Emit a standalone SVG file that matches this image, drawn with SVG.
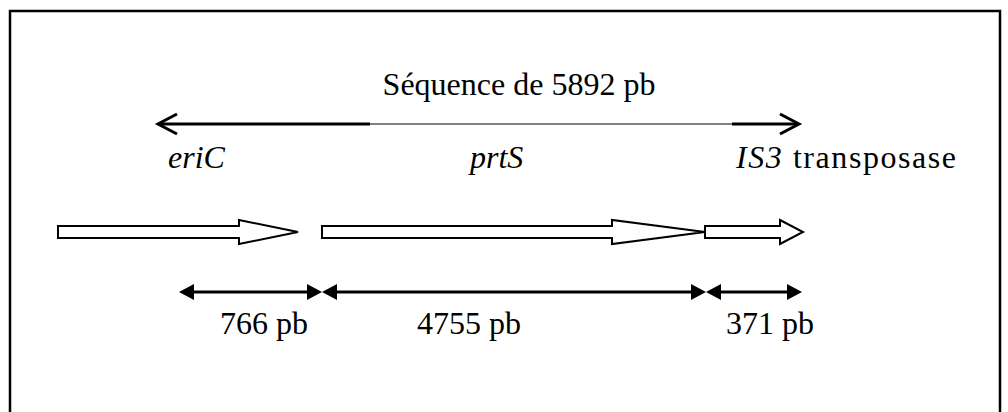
<svg xmlns="http://www.w3.org/2000/svg" width="1008" height="412" viewBox="0 0 1008 412">
<style>
text{font-family:"Liberation Serif","Times New Roman",serif;font-size:32px;fill:#000}
.it{font-style:italic}
.blk{fill:#fff;stroke:#000;stroke-width:2;stroke-linejoin:miter}
.dim{stroke:#000;stroke-width:3;fill:none}
.tip{fill:#000}
</style>
<rect x="10" y="11" width="990" height="420" fill="#fff" stroke="#000" stroke-width="2.5"/>
<g id="title"><text x="519" y="95" text-anchor="middle">Séquence de 5892 pb</text></g>
<g id="connectors">
<line x1="159" y1="124" x2="370" y2="124" class="dim"/>
<line x1="370" y1="124" x2="732" y2="124" stroke="#000" stroke-width="1"/>
<line x1="732" y1="124" x2="797" y2="124" class="dim"/>
<polyline points="177,114 158,124 177,134" class="dim"/>
<polyline points="780,114 799,124 780,134" class="dim"/>
<line x1="185" y1="292" x2="316" y2="292" class="dim"/>
<line x1="328" y1="292" x2="700" y2="292" class="dim"/>
<line x1="712" y1="292" x2="796" y2="292" class="dim"/>
<polygon points="179,292 194,284 194,300" class="tip"/>
<polygon points="322,292 307,284 307,300" class="tip"/>
<polygon points="322,292 337,284 337,300" class="tip"/>
<polygon points="706,292 691,284 691,300" class="tip"/>
<polygon points="706,292 721,284 721,300" class="tip"/>
<polygon points="802,292 787,284 787,300" class="tip"/>
</g>
<g id="eriC">
<polygon points="58,226 239,226 239,220 298,232 239,244 239,238 58,238" class="blk"/>
<text x="168" y="168" class="it">eriC</text>
<text x="220" y="334">766 pb</text>
</g>
<g id="prtS">
<polygon points="322,226 612,226 612,220 705,232 612,244 612,238 322,238" class="blk"/>
<text x="470" y="168" class="it">prtS</text>
<text x="417" y="334">4755 pb</text>
</g>
<g id="IS3">
<polygon points="705,226 780,226 780,220 803,232 780,244 780,238 705,238" class="blk"/>
<text x="736" y="168" textLength="220" lengthAdjust="spacing"><tspan class="it">IS3</tspan> transposase</text>
<text x="726" y="334">371 pb</text>
</g>
</svg>
